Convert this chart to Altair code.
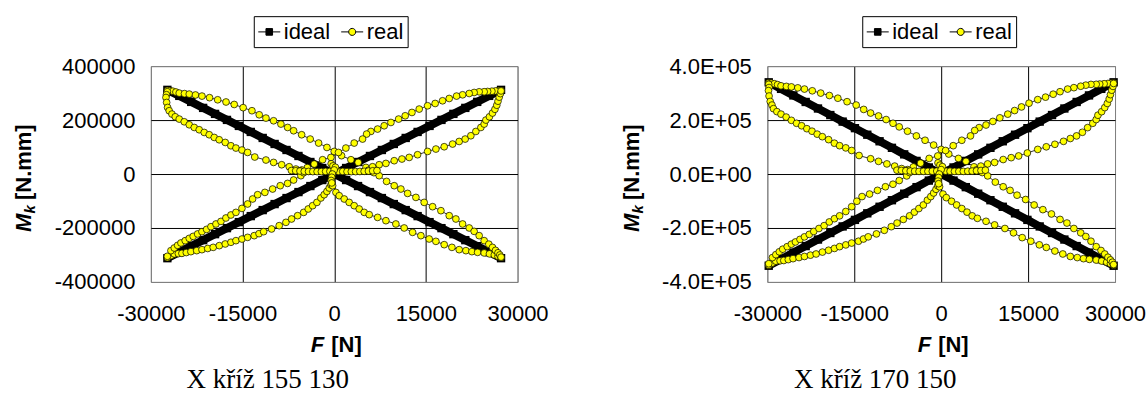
import altair as alt
import pandas as pd

FONT = "Liberation Sans"
SERIF = "Liberation Serif"

# ---------------- Left panel : X kříž 155 130 ----------------
L_IDEAL_F = [-27300, -25350, -23400, -21450, -19500, -17550, -15600, -13650, -11700, -9750, -7800, -5850, -3900, -1950, 0,
             1950, 3900, 5850, 7800, 9750, 11700, 13650, 15600, 17550, 19500, 21450, 23400, 25350, 27300]
L_IDEAL_RISE = [-312000, -289700, -267400, -245100, -222900, -200600, -178300, -156000, -133700, -111400, -89100, -66900, -44600, -22300, 0,
                22300, 44600, 66900, 89100, 111400, 133700, 156000, 178300, 200600, 222900, 245100, 267400, 289700, 312000]
L_IDEAL_FALL = [312000, 289700, 267400, 245100, 222900, 200600, 178300, 156000, 133700, 111400, 89100, 66900, 44600, 22300, 0,
                -22300, -44600, -66900, -89100, -111400, -133700, -156000, -178300, -200600, -222900, -245100, -267400, -289700, -312000]

L_Q2_OUT_F = [-27300, -26900, -26400, -25900, -25360, -24500, -23720, -22700, -21640, -20400, -19070, -17700, -16360, -14900, -13460, -12270,
              -11170, -9920, -8720, -7620, -6640, -5330, -3930, -2550, -1190, 0, 1200, 2730, 3930, 5190, 6000]
L_Q2_OUT_M = [310000, 309000, 307000, 304000, 300000, 298000, 296300, 293000, 288900, 283000, 275200, 267000, 257800, 246000, 234600, 219600,
              207400, 197400, 185200, 172600, 160400, 145600, 129600, 114800, 98500, 83700, 68000, 53000, 43000, 24500, 16000]
L_Q1_OUT_F = [27300, 26900, 26400, 25800, 25100, 24540, 23720, 22900, 22090, 21010, 20020, 18820, 17730, 16520, 15280, 13910, 12720,
              11620, 10540, 9280, 8180, 7100, 6000, 5300, 4640, 3270, 1910, 700, -540, -1900, -3270, -4400, -5300]
L_Q1_OUT_M = [310000, 309000, 308000, 307000, 306000, 305000, 304800, 302200, 298500, 293700, 288900, 280000, 271500, 261500, 253000,
              240800, 228200, 215900, 203700, 191100, 178900, 166700, 157800, 148100, 129600, 114800, 96300, 80000, 61500, 53000, 37000,
              24000, 15000]
L_Q2_IN_F = [-27300, -27450, -27530, -27420, -27260, -27000, -26550, -26010, -25360, -24540, -23720, -22900, -22090, -21270, -20450,
             -19630, -18820, -17830, -16910, -16080, -15100, -14170, -13000, -11170, -9920, -8600, -7360, -6270, -5600]
L_Q2_IN_M = [305000, 294000, 283700, 265200, 246700, 234500, 222200, 212200, 203700, 193700, 182600, 172600, 164100, 154100, 145600,
             135600, 127000, 117000, 104800, 96300, 88900, 80000, 63000, 51900, 43000, 34400, 27000, 18500, 12000]
L_Q1_IN_F = [5600, 6280, 7360, 8460, 9820, 11080, 12270, 13640, 15280, 16640, 18000, 19370, 20450, 21430, 22360, 23180, 24000, 24540,
             24820, 25400, 25900, 26300, 26600, 26800, 27000, 27200, 27300]
L_Q1_IN_M = [14000, 27000, 34400, 39300, 49300, 55600, 61500, 71500, 83700, 92600, 101100, 111100, 120700, 129600, 141900, 157800,
             172600, 185200, 200000, 212000, 226000, 240000, 255000, 270000, 285000, 298000, 308000]
L_Q3_OUT_F = [-27300, -26720, -26170, -25500, -24920, -24200, -23450, -22500, -21640, -20700, -19800, -18800, -17830, -16900, -16080,
              -15100, -14170, -13090, -12300, -11550, -10250, -9000, -7900, -6980, -5990, -5000, -4250, -3530, -2830, -2180, -1640,
              -1190, -820, -540]
L_Q3_OUT_M = [-310000, -302600, -296300, -295000, -294100, -291000, -287800, -284000, -280400, -276000, -271900, -265500, -259300,
              -253000, -247000, -241000, -234800, -228500, -221000, -213700, -203700, -191500, -179200, -166700, -154400, -142200,
              -129600, -117400, -105200, -88900, -76700, -64500, -51900, -40000]
L_Q4_OUT_F = [-260, 280, 820, 1640, 2450, 3270, 4090, 4910, 5730, 7100, 8460, 10090, 11450, 12830, 14180, 15540, 16640, 18000, 19260,
              20450, 21550, 22530, 23460, 24540, 25400, 26200, 26800, 27300]
L_Q4_OUT_M = [-43300, -68100, -80400, -92600, -105200, -117400, -129600, -142200, -150700, -160800, -173000, -185200, -200000, -216300,
              -228500, -240800, -249600, -261900, -271900, -280400, -284100, -287800, -290400, -292600, -296000, -300000, -305000, -310000]
L_Q3_IN_F = [-27300, -26720, -26170, -25620, -25080, -24380, -23720, -23070, -22350, -21640, -20880, -20170, -19350, -18530, -17720,
             -16900, -16080, -15100, -14170, -13350, -12530, -11340, -10080, -8830, -7630, -6640, -5450, -5000]
L_Q3_IN_M = [-305000, -284100, -274100, -264400, -255600, -247000, -238500, -231100, -222200, -213700, -205200, -195200, -185200,
             -175600, -163000, -151900, -142200, -127400, -111100, -92600, -76700, -68100, -55600, -43300, -34800, -22200, -6300, 5000]
L_Q4_IN_F = [6500, 7360, 8570, 9820, 10910, 12010, 13370, 14720, 16100, 17460, 18820, 19910, 21010, 22090, 22900, 23720, 24540, 25300,
             25900, 26400, 26800, 27100, 27300]
L_Q4_IN_M = [5000, -6300, -27400, -43300, -55600, -71900, -86700, -105200, -121100, -135900, -154400, -166700, -185200, -200000,
             -212600, -228500, -247000, -260000, -272000, -283000, -292000, -300000, -308000]
L_ROW_F = [-7000, -6300, -5600, -4900, -4200, -3500, -2800, -2100, -1400, -700, 0, 700, 1400, 2100, 2800, 3500, 4200, 4900, 5600,
           6300, 7000]
L_ROW_M = [13000, 12000, 11000, 10000, 9500, 9000, 9000, 9000, 9500, 10000, 10500, 10000, 9500, 9000, 9000, 9000, 9500, 10000, 11000,
           12000, 13000]
L_MID_F = [-500, -200, 200, 0, -300, -400, -500, -400]
L_MID_M = [38000, 30000, 25000, 15000, 0, -12000, -24000, -33000]

# ---------------- Right panel : X kříž 170 150 ----------------
R_IDEAL_F = [-29760, -27630, -25510, -23380, -21260, -19130, -17000, -14880, -12750, -10630, -8500, -6380, -4250, -2130, 0,
             2130, 4250, 6380, 8500, 10630, 12750, 14880, 17000, 19130, 21260, 23380, 25510, 27630, 29760]
R_IDEAL_RISE = [-340000, -315700, -291400, -267100, -242900, -218600, -194300, -170000, -145700, -121400, -97100, -72900, -48600, -24300, 0,
                24300, 48600, 72900, 97100, 121400, 145700, 170000, 194300, 218600, 242900, 267100, 291400, 315700, 340000]
R_IDEAL_FALL = [340000, 315700, 291400, 267100, 242900, 218600, 194300, 170000, 145700, 121400, 97100, 72900, 48600, 24300, 0,
                -24300, -48600, -72900, -97100, -121400, -145700, -170000, -194300, -218600, -242900, -267100, -291400, -315700, -340000]

R_Q2_OUT_F = [-29760, -29320, -28780, -28230, -27640, -26710, -25850, -24740, -23590, -22240, -20790, -19290, -17830, -16240, -14670,
              -13370, -12180, -10810, -9500, -8310, -7240, -5810, -4280, -2780, -1300, 0, 1310, 2980, 4280, 5660, 6540]
R_Q2_OUT_M = [337900, 336800, 334600, 331400, 327000, 324800, 323000, 319400, 314900, 308500, 300000, 291000, 281000, 268100, 255700,
              239400, 226100, 215200, 201900, 188100, 174800, 158700, 141300, 125100, 107400, 91200, 74100, 57800, 46900, 26700, 17400]
R_Q1_OUT_F = [29760, 29320, 28780, 28120, 27360, 26750, 25850, 24960, 24080, 22900, 21820, 20510, 19330, 18010, 16660, 15160, 13860,
              12670, 11490, 10120, 8920, 7740, 6540, 5780, 5060, 3560, 2080, 760, -590, -2070, -3560, -4800, -5780]
R_Q1_OUT_M = [337900, 336800, 335700, 334600, 333500, 332500, 332200, 329400, 325400, 320100, 314900, 305200, 295900, 285000, 275800,
              262500, 248700, 235300, 222000, 208300, 195000, 181700, 172000, 161400, 141300, 125100, 105000, 87200, 67000, 57800, 40300,
              26200, 16400]
R_Q2_IN_F = [-29760, -29700, -29800, -29700, -29500, -29200, -28940, -28350, -27640, -26750, -25850, -24960, -24080, -23180, -22290,
             -21400, -20510, -19430, -18430, -17530, -16460, -15450, -14170, -12180, -10810, -9370, -8020, -6830, -6100]
R_Q2_IN_M = [332500, 320500, 309200, 289100, 268900, 255600, 242200, 231300, 222000, 211100, 199000, 188100, 178900, 168000, 158700,
             147800, 138400, 127500, 114200, 105000, 96900, 87200, 68700, 56600, 46900, 37500, 29400, 20200, 13100]
R_Q1_IN_F = [6100, 6850, 8020, 9220, 10700, 12080, 13370, 14870, 16660, 18140, 19620, 21110, 22290, 23360, 24370, 25270, 26160, 26750,
             27050, 27690, 28230, 28670, 28990, 29210, 29430, 29650, 29760]
R_Q1_IN_M = [15300, 29400, 37500, 42800, 53700, 60600, 67000, 77900, 91200, 100900, 110200, 121100, 131600, 141300, 154700, 172000,
             188100, 201900, 218000, 231100, 246300, 261600, 278000, 294300, 310700, 324800, 335700]
R_Q3_OUT_F = [-29760, -29120, -28530, -27800, -27160, -26380, -25560, -24530, -23590, -22560, -21580, -20490, -19430, -18420, -17530,
              -16460, -15450, -14270, -13410, -12590, -11170, -9810, -8610, -7610, -6530, -5450, -4630, -3850, -3080, -2380, -1790,
              -1300, -890, -590]
R_Q3_OUT_M = [-337900, -329800, -323000, -321600, -320600, -317200, -313700, -309600, -305600, -300800, -296400, -289400, -282600,
              -275800, -269200, -262700, -255900, -249100, -240900, -232900, -222000, -208700, -195300, -181700, -168300, -155000,
              -141300, -128000, -114700, -96900, -83600, -70300, -56600, -43600]
R_Q4_OUT_F = [-280, 310, 890, 1790, 2670, 3560, 4460, 5350, 6250, 7740, 9220, 11000, 12480, 13980, 15460, 16940, 18140, 19620, 20990,
              22290, 23490, 24560, 25570, 26750, 27690, 28560, 29210, 29760]
R_Q4_OUT_M = [-47200, -74200, -87600, -100900, -114700, -128000, -141300, -155000, -164300, -175300, -188600, -201900, -218000, -235800,
              -249100, -262500, -272100, -285500, -296400, -305600, -309700, -313700, -316500, -318900, -322600, -327000, -332500, -337900]
R_Q3_IN_F = [-29760, -29120, -28530, -27930, -27340, -26570, -25850, -25150, -24360, -23590, -22760, -21990, -21090, -20200, -19310,
             -18420, -17530, -16460, -15450, -14550, -13660, -12360, -10990, -9620, -8320, -7240, -5940, -5450]
R_Q3_IN_M = [-332500, -309700, -298800, -288200, -278600, -269200, -260000, -251900, -242200, -232900, -223700, -212800, -201900,
             -191400, -177700, -165600, -155000, -138900, -121100, -100900, -83600, -74200, -60600, -47200, -37900, -24200, -6900, 5500]
R_Q4_IN_F = [7090, 8020, 9340, 10700, 11890, 13090, 14570, 16040, 17550, 19030, 20510, 21700, 22900, 24080, 24960, 25850, 26750, 27580,
             28230, 28780, 29210, 29540, 29760]
R_Q4_IN_M = [5500, -6900, -29900, -47200, -60600, -78400, -94500, -114700, -132000, -148100, -168300, -181700, -201900, -218000,
             -231700, -249100, -269200, -283400, -296500, -308500, -318300, -327000, -335700]
R_ROW_F = [-7630, -6870, -6100, -5340, -4580, -3820, -3050, -2290, -1530, -760, 0, 760, 1530, 2290, 3050, 3820, 4580, 5340, 6100,
           6870, 7630]
R_ROW_M = [14200, 13100, 12000, 10900, 10400, 9800, 9800, 9800, 10400, 10900, 11400, 10900, 10400, 9800, 9800, 9800, 10400, 10900,
           12000, 13100, 14200]
R_MID_F = [-550, -220, 220, 0, -330, -440, -550, -440]
R_MID_M = [41400, 32700, 27300, 16400, 0, -13100, -26200, -36000]

SERIES = ["ideal", "real"]
SQ_PATH = "M-1,0H1M-0.3,-0.3H0.3V0.3H-0.3Z"
CI_PATH = "M-1,0H-0.32M0.32,0H1M-0.32,0A0.32,0.32,0,1,1,0.32,0A0.32,0.32,0,1,1,-0.32,0Z"


def frame_from(branches):
    rows = []
    for name, fs, ms in branches:
        assert len(fs) == len(ms), (name, len(fs), len(ms))
        for i, (f, m) in enumerate(zip(fs, ms)):
            rows.append({"F": f, "M": m, "branch": name, "idx": i})
    return pd.DataFrame(rows)


def text_layer(txt, x, y, size=22, bold=True, italic=False, align="left", angle=0, font=FONT, baseline="alphabetic"):
    kw = dict(font=font, fontSize=size, align=align, baseline=baseline, color="black")
    kw["fontWeight"] = "bold" if bold else "normal"
    if italic:
        kw["fontStyle"] = "italic"
    if angle:
        kw["angle"] = angle
    return alt.Chart(pd.DataFrame({"t": [txt]})).mark_text(**kw).encode(
        x=alt.value(x), y=alt.value(y), text="t:N")


def panel(ideal_f, rise, fall, branches, width, ylab_expr, caption, cap_x, ytitle_x, legend_x):
    height = 216
    ideal_df = frame_from([("rise", ideal_f, rise), ("fall", ideal_f, fall)])
    real_df = frame_from(branches)

    xaxis = alt.Axis(values=[-30000, -15000, 0, 15000, 30000], title=None, grid=True,
                     gridColor={"condition": {"test": "abs(datum.value) >= 30000", "value": "#808080"}, "value": "black"},
                     gridWidth=1, domain=False, ticks=False, labelFont=FONT, labelFontSize=22, labelColor="black",
                     labelPadding=22, labelFlush=False,
                     labelExpr="(datum.value < 0 ? '-' : '') + format(abs(datum.value), 'd')")
    yaxis = alt.Axis(values=[-400000, -200000, 0, 200000, 400000], title=None, grid=True,
                     gridColor={"condition": {"test": "abs(datum.value) >= 400000", "value": "#808080"}, "value": "black"},
                     gridWidth=1, domain=False, ticks=False, labelFont=FONT, labelFontSize=22, labelColor="black",
                     labelPadding=16, labelFlush=False, labelExpr=ylab_expr)
    xs = alt.Scale(domain=[-30000, 30000], nice=False, zero=False)
    ys = alt.Scale(domain=[-400000, 400000], nice=False, zero=False)
    X = alt.X("F:Q", scale=xs, axis=xaxis)
    Y = alt.Y("M:Q", scale=ys, axis=yaxis)

    ideal_line = alt.Chart(ideal_df).mark_line(color="black", strokeWidth=8).encode(
        x=X, y=Y, detail="branch:N", order="idx:Q")
    ideal_pts = alt.Chart(ideal_df).mark_point(shape="square", filled=True, color="black", size=70, opacity=1).encode(x=X, y=Y)
    real_line = alt.Chart(real_df).mark_line(color="black", strokeWidth=0.8).encode(
        x=X, y=Y, detail="branch:N", order="idx:Q")
    real_pts = alt.Chart(real_df).mark_point(shape="circle", filled=True, fill="#FFFF00", stroke="black",
                                             strokeWidth=0.7, size=46, opacity=1).encode(x=X, y=Y)

    leg = alt.Legend(title=None, orient="none", legendX=legend_x, legendY=-50, direction="horizontal",
                     strokeColor="black", fillColor="white", padding=4, labelFont=FONT, labelFontSize=22,
                     labelColor="black", symbolSize=484, symbolStrokeWidth=1, labelOffset=3, columnPadding=8)
    dummy = alt.Chart(pd.DataFrame({"F": [1000000, 1000000], "M": [0, 0], "series": SERIES})).mark_point(
        filled=True, clip=True, size=484, strokeWidth=1, opacity=1).encode(
        x=X, y=Y,
        shape=alt.Shape("series:N", scale=alt.Scale(domain=SERIES, range=[SQ_PATH, CI_PATH]), legend=leg),
        fill=alt.Fill("series:N", scale=alt.Scale(domain=SERIES, range=["black", "#FFFF00"]), legend=leg),
        stroke=alt.Stroke("series:N", scale=alt.Scale(domain=SERIES, range=["black", "black"]), legend=leg),
    )

    cx = width / 2
    texts = [
        text_layer("F", cx - 10, 286, italic=True, align="right"),
        text_layer("[N]", cx - 3, 286, align="left"),
        text_layer("M", ytitle_x, 166, italic=True, align="left", angle=270),
        text_layer("k", ytitle_x + 4, 147.5, size=15, italic=True, align="left", angle=270),
        text_layer("[N.mm]", ytitle_x, 134, align="left", angle=270),
        text_layer(caption, cap_x, 322, size=27, bold=False, align="center", font=SERIF),
    ]
    return alt.layer(ideal_line, ideal_pts, real_line, real_pts, dummy, *texts).properties(width=width, height=height)


left = panel(L_IDEAL_F, L_IDEAL_RISE, L_IDEAL_FALL,
             [("q2o", L_Q2_OUT_F, L_Q2_OUT_M), ("q1o", L_Q1_OUT_F, L_Q1_OUT_M), ("q2i", L_Q2_IN_F, L_Q2_IN_M),
              ("q1i", L_Q1_IN_F, L_Q1_IN_M), ("q3o", L_Q3_OUT_F, L_Q3_OUT_M), ("q4o", L_Q4_OUT_F, L_Q4_OUT_M),
              ("q3i", L_Q3_IN_F, L_Q3_IN_M), ("q4i", L_Q4_IN_F, L_Q4_IN_M), ("row", L_ROW_F, L_ROW_M),
              ("mid", L_MID_F, L_MID_M)],
             367, "(datum.value < 0 ? '-' : '') + format(abs(datum.value), 'd')",
             "X kříž 155 130", 117, -120, 103)

right = panel(R_IDEAL_F, R_IDEAL_RISE, R_IDEAL_FALL,
              [("q2o", R_Q2_OUT_F, R_Q2_OUT_M), ("q1o", R_Q1_OUT_F, R_Q1_OUT_M), ("q2i", R_Q2_IN_F, R_Q2_IN_M),
               ("q1i", R_Q1_IN_F, R_Q1_IN_M), ("q3o", R_Q3_OUT_F, R_Q3_OUT_M), ("q4o", R_Q4_OUT_F, R_Q4_OUT_M),
               ("q3i", R_Q3_IN_F, R_Q3_IN_M), ("q4i", R_Q4_IN_F, R_Q4_IN_M), ("row", R_ROW_F, R_ROW_M),
               ("mid", R_MID_F, R_MID_M)],
              348, "datum.value == 0 ? '0.0E+00' : (datum.value < 0 ? '-' : '') + format(abs(datum.value) / 100000, '.1f') + 'E+05'",
              "X kříž 170 150", 108, -128, 95)

chart = alt.hconcat(left, right, spacing=71).resolve_scale(
    x="independent", y="independent", fill="independent", shape="independent", stroke="independent"
).resolve_legend(
    fill="independent", shape="independent", stroke="independent"
).configure(
    padding={"left": 12, "top": 15, "right": 0, "bottom": 0}, background="white"
).configure_view(stroke="#808080", strokeWidth=1)

chart.save("out.html", embed_options={"renderer": "svg", "actions": False})
